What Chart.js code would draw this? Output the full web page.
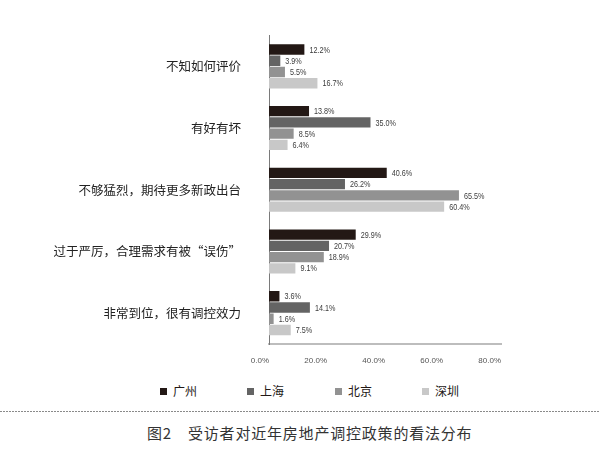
<!DOCTYPE html>
<html>
<head>
<meta charset="utf-8">
<script src="https://cdn.jsdelivr.net/npm/chart.js@4.4.1/dist/chart.umd.min.js"></script>
<style>
  body { margin: 0; background: #fff; }
  #wrap { position: relative; width: 600px; height: 460px; overflow: hidden; font-family: "Noto Sans CJK SC", "Noto Sans", sans-serif; }
  #chartBox { position: absolute; left: 0; top: 0; width: 600px; height: 380px; }
  #legend { position: absolute; left: 0; top: 382px; width: 600px; height: 18px; }
  .item { position: absolute; top: 0; height: 18px; font-size: 12px; line-height: 18px; color: #231815; white-space: nowrap; }
  .item i { position: absolute; left: 0; top: 5.5px; width: 7px; height: 7px; }
  .item span { position: absolute; left: 13px; top: 0; }
  #rule { position: absolute; left: 0; top: 411px; width: 600px; height: 1px;
          background: repeating-linear-gradient(to right, #8a8a8a 0 2px, transparent 2px 3px); }
  .cap { position: absolute; top: 422px; font-size: 15px; line-height: 22px; color: #333; letter-spacing: 0.8px; white-space: nowrap; }
</style>
</head>
<body>
<div id="wrap">
  <div id="chartBox"><canvas id="myChart" width="600" height="380"></canvas></div>
  <div id="legend"></div>
  <div id="rule"></div>
  <div class="cap" style="left:147px">图2</div>
  <div class="cap" style="left:188px">受访者对近年房地产调控政策的看法分布</div>
</div>
<script>
// chart data
const categories = ['不知如何评价', '有好有坏', '不够猛烈，期待更多新政出台', '过于严厉，合理需求有被“误伤”', '非常到位，很有调控效力'];
const cities = ['广州', '上海', '北京', '深圳'];
const guangzhou = [12.2, 13.8, 40.6, 29.9, 3.6];
const shanghai = [3.9, 35.0, 26.2, 20.7, 14.1];
const beijing = [5.5, 8.5, 65.5, 18.9, 1.6];
const shenzhen = [16.7, 6.4, 60.4, 9.1, 7.5];
const xTicks = [0, 20, 40, 60, 80];

const colors = ['#231815', '#646464', '#929292', '#c8c8c8'];
const seriesValues = [guangzhou, shanghai, beijing, shenzhen];

// value labels at the end of each bar (squeezed a bit, the original uses a condensed face)
const valueLabels = {
    id: 'valueLabels',
    afterDatasetsDraw(chart) {
        const ctx = chart.ctx;
        chart.data.datasets.forEach(function(ds, i) {
            const meta = chart.getDatasetMeta(i);
            meta.data.forEach(function(bar, j) {
                ctx.save();
                ctx.translate(bar.x + 5, bar.y + 0.5);
                ctx.scale(0.76, 1);
                ctx.font = '9.5px "Liberation Sans", sans-serif';
                ctx.fillStyle = '#3c3c3c';
                ctx.textAlign = 'left';
                ctx.textBaseline = 'middle';
                ctx.fillText(ds.data[j].toFixed(1) + '%', 0, 0);
                ctx.restore();
            });
        });
    }
};

const ctx = document.getElementById('myChart').getContext('2d');
const myChart = new Chart(ctx, {
    type: 'bar',
    data: {
        labels: categories,
        datasets: cities.map(function(name, i) {
            return {
                label: name,
                data: seriesValues[i],
                backgroundColor: colors[i],
                borderWidth: 0,
                categoryPercentage: 0.73,
                barPercentage: 0.92
            };
        })
    },
    options: {
        indexAxis: 'y',
        responsive: false,
        animation: false,
        devicePixelRatio: 1,
        layout: { padding: { top: 29, right: 99, left: 0, bottom: 0 } },
        plugins: {
            legend: { display: false },
            tooltip: { enabled: false }
        },
        scales: {
            x: {
                min: 0,
                max: 80,
                afterBuildTicks: function(scale) {
                    scale.ticks = xTicks.map(function(v) { return { value: v }; });
                },
                afterFit: function(scale) { scale.height = 36; },
                grid: { display: false, drawTicks: false },
                border: { display: true, color: '#bdbdbd', width: 2 },
                ticks: {
                    align: 'end',
                    padding: 12,
                    color: '#555',
                    font: { family: '"Liberation Sans", sans-serif', size: 8 },
                    callback: function(v) { return Number(v).toFixed(1) + '%'; }
                }
            },
            y: {
                afterFit: function(scale) { scale.width = 269; },
                grid: { display: false, drawTicks: false },
                border: { display: true, color: '#7a7a7a', width: 1 },
                ticks: {
                    padding: 28,
                    color: '#222',
                    font: { family: '"Noto Sans CJK SC", sans-serif', size: 12.5 }
                }
            }
        }
    },
    plugins: [valueLabels]
});

// legend under the chart
const legendX = [160, 247, 335, 422];
const legend = document.getElementById('legend');
cities.forEach(function(name, i) {
    const item = document.createElement('div');
    item.className = 'item';
    item.style.left = legendX[i] + 'px';
    item.innerHTML = '<i style="background:' + colors[i] + '"></i><span>' + name + '</span>';
    legend.appendChild(item);
});
</script>
</body>
</html>
